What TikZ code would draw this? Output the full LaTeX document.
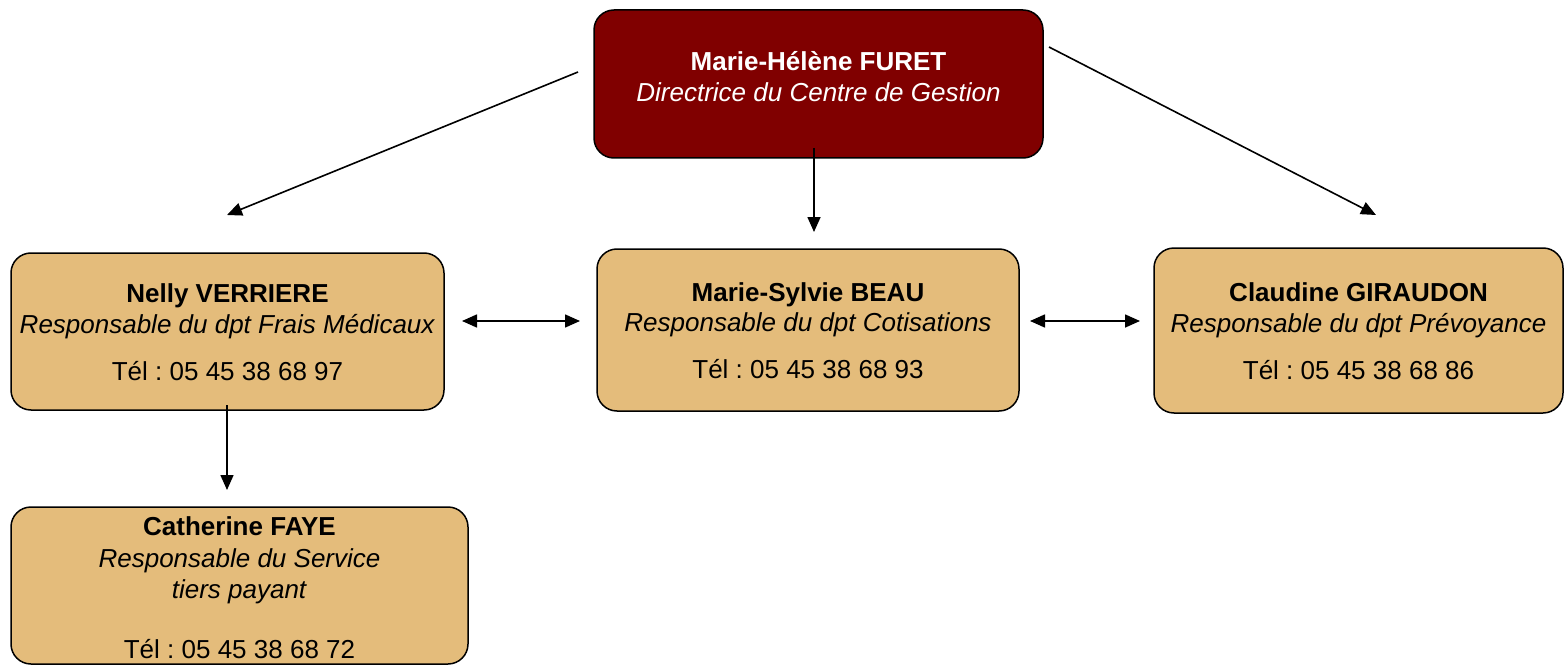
\documentclass[tikz,border=0pt]{standalone}
\usepackage{fontspec}
\setmainfont{Liberation Sans}
\usepackage{tikz}
\usetikzlibrary{arrows.meta}
\definecolor{boss_red}{HTML}{800000}
\definecolor{dept_tan}{HTML}{E4BC7B}
\newcommand{\topstrut}{\rule{0pt}{20pt}}
\tikzstyle{node_boss} = [draw, line width=1.5pt, rounded corners=20pt, fill=boss_red, text=white, align=center, inner sep=0pt, font=\fontsize{26}{30.7}\selectfont\frenchspacing]
\tikzstyle{node_dept} = [draw, line width=1.5pt, rounded corners=20pt, fill=dept_tan, align=center, inner sep=0pt, font=\fontsize{26}{30.7}\selectfont\frenchspacing]
\tikzstyle{edge_arrow} = [line width=1.6pt, -{Triangle[length=15pt,width=13pt]}]
\tikzstyle{edge_both} = [line width=1.6pt, {Triangle[length=15pt,width=13pt]}-{Triangle[length=15pt,width=13pt]}]

\begin{document}
\begin{tikzpicture}[x=1pt,y=-1pt]
			\useasboundingbox (0,0) rectangle (1564,666);
			\node (A) at (818.5,84) [node_boss, minimum width=449pt, minimum height=148pt] {\topstrut\textbf{Marie-Hélène FURET}\\\textit{Directrice du Centre de Gestion}\rule[-16pt]{0pt}{0pt}};
			\node (B) at (227.5,331.5) [node_dept, minimum width=433pt, minimum height=157pt] {\topstrut\textbf{Nelly VERRIERE}\\\textit{Responsable du dpt Frais Médicaux}\\[16pt]Tél : 05 45 38 68 97};
			\node (C) at (808,330) [node_dept, minimum width=422pt, minimum height=162pt] {\topstrut\textbf{Marie-Sylvie BEAU}\\\textit{Responsable du dpt Cotisations}\\[16pt]Tél : 05 45 38 68 93};
			\node (D) at (1358.5,330.5) [node_dept, minimum width=409pt, minimum height=165pt] {\topstrut\textbf{Claudine GIRAUDON}\\\textit{Responsable du dpt Prévoyance}\\[16pt]Tél : 05 45 38 68 86};
			\node (E) at (239.5,585.5) [node_dept, minimum width=457pt, minimum height=157pt, font=\fontsize{26}{31.5}\selectfont\frenchspacing] {\rule{0pt}{23pt}\textbf{Catherine FAYE}\\\textit{Responsable du Service}\\\textit{tiers payant}\\[28pt]Tél : 05 45 38 68 72};

			\coordinate (a1) at (578,72);   \coordinate (b1) at (227,215);
			\coordinate (a2) at (814,148);  \coordinate (b2) at (814,232);
			\coordinate (a3) at (1049,47);  \coordinate (b3) at (1376,215);
			\coordinate (a4) at (462,321);  \coordinate (b4) at (580,321);
			\coordinate (a5) at (1030,321); \coordinate (b5) at (1140,321);
			\coordinate (a6) at (227,405);  \coordinate (b6) at (227,490);

			\draw[edge_arrow] (a1)--(b1);
			\draw[edge_arrow] (a2)--(b2);
			\draw[edge_arrow] (a3)--(b3);
			\draw[edge_arrow] (a6)--(b6);
			\draw[edge_both] (a4)--(b4);
			\draw[edge_both] (a5)--(b5);
		\end{tikzpicture}
\end{document}
